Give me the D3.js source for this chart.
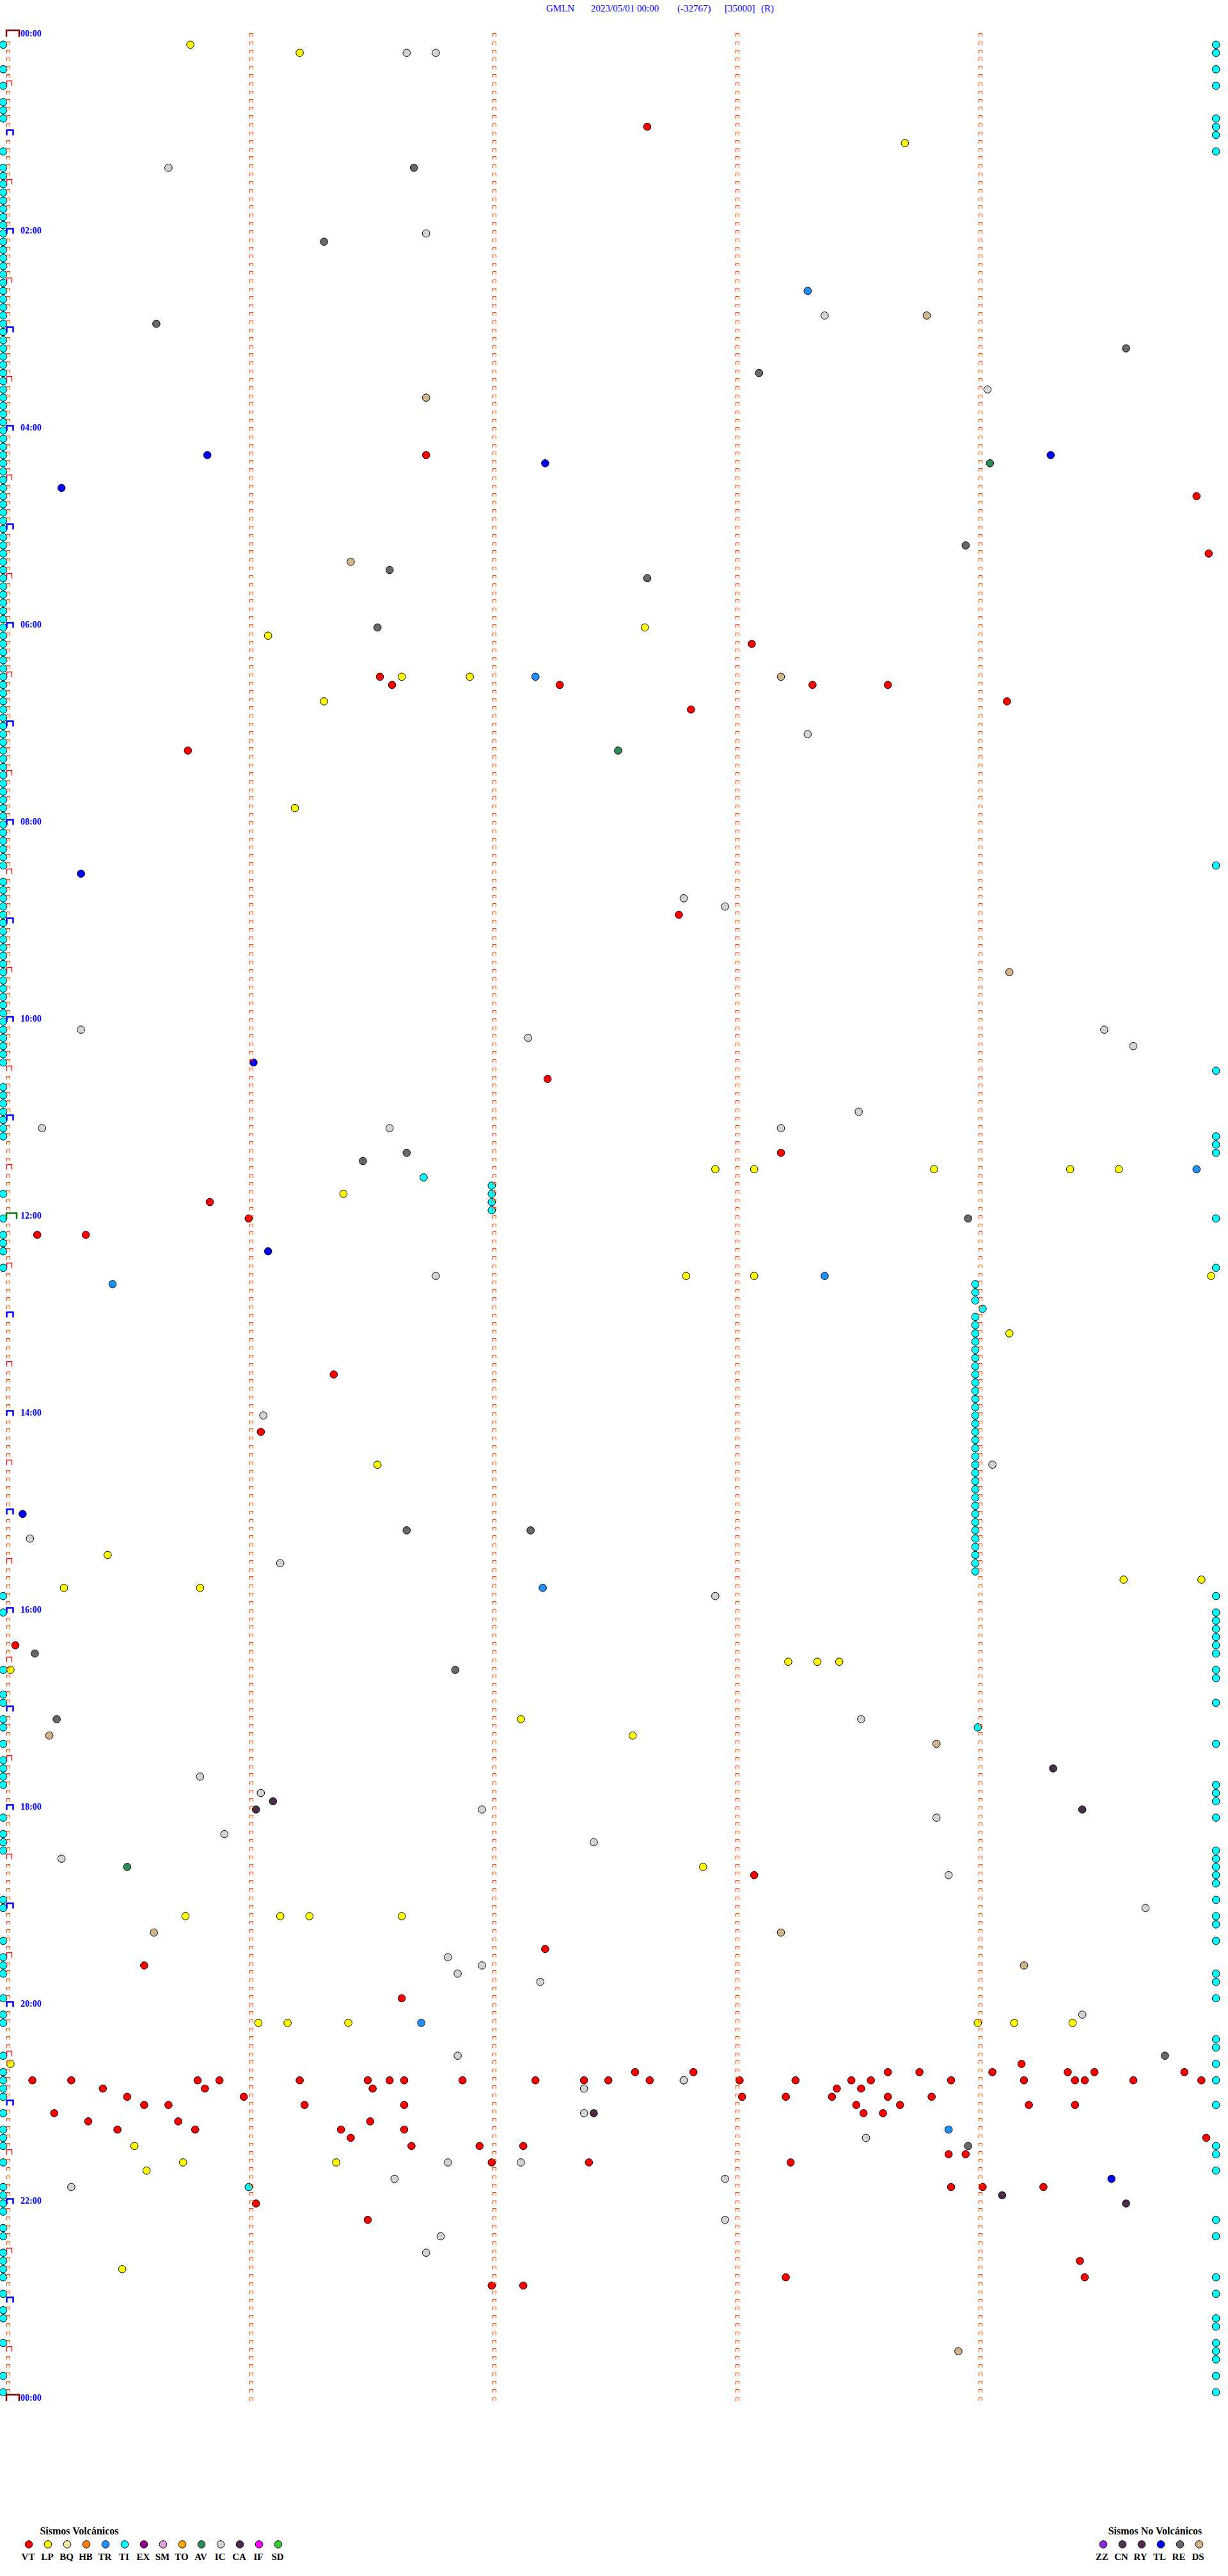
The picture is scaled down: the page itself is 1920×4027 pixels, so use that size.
<!DOCTYPE html>
<html><head><meta charset="utf-8">
<script src="https://cdn.jsdelivr.net/npm/d3@7"></script>
<style>body{margin:0;background:#fff}</style>
</head><body>
<svg id="c" width="1920" height="4027"></svg>
<script>
// ---- categories & colours ----
const volcTypes = ["VT","LP","BQ","HB","TR","TI","EX","SM","TO","AV","IC","CA","IF","SD"];
const volcColors = ["#FF0000","#FFFF00","#EEE8AA","#FF8000","#1E90FF","#00FFFF","#8B008B","#DDA0DD","#FFA500","#2E8B57","#D3D3D3","#4B2D4B","#FF00FF","#32CD32"];
const nonVolcTypes = ["ZZ","CN","RY","TL","RE","DS"];
const nonVolcColors = ["#8A2BE2","#4B3552","#552A55","#0000FF","#696969","#D2B48C"];

// hour labels (every 2 h)
const hourLabels = ["00:00","02:00","04:00","06:00","08:00","10:00","12:00","14:00","16:00","18:00","20:00","22:00","00:00"];

// ---- events: minutes of the day ----
const VT = [57.65,256.74,284.91,319.96,373.08,391.55,396.60,397.29,398.33,398.64,409.13,412.83,435.76,537.78,637.24,683.20,710.85,721.01,730.14,730.34,816.36,851.06,980.05,1123.09,1167.23,1175.58,1196.64,1239.19,
1242.60,1242.84,1243.64,1243.77,1244.07,1244.38,1244.49,1244.86,
1245.12,1245.28,1245.80,1245.89,1246.22,1246.50,1246.59,1246.65,1246.89,1247.19,1247.39,1247.49,1247.66,1247.80,1248.03,1248.26,1248.49,1248.57,1248.90,1249.20,1249.41,1249.45,1249.65,1249.93,
1250.41,1250.83,1251.52,1253.43,1253.53,1255.51,1255.99,1258.04,1258.22,1258.41,1258.64,1258.82,
1260.58,1260.68,1261.24,1261.65,1263.51,1263.69,1264.22,1264.41,1265.21,1268.54,1268.62,1270.35,1270.72,1271.51,
1275.47,1275.79,1276.39,1276.65,1281.43,1284.95,1286.68,1286.96,1287.14,1293.89,1293.96,1297.01,1297.41,1298.24,
1313.90,1314.03,1314.28,1321.04,1331.50,1359.43,1368.22,1369.45,1372.01,1372.14];
const LP = [5.77,11.22,68.71,362.64,366.09,391.64,391.92,406.32,471.20,692.93,693.09,693.83,694.39,694.59,706.40,757.81,758.09,759.97,794.14,871.54,925.43,944.61,944.93,945.25,945.81,993.23,993.35,993.44,995.03,1027.13,1037.59,1117.88,1145.75,1146.14,1146.26,1146.64,1211.05,1211.17,1211.42,1214.01,1214.16,1214.40,1235.03,1285.54,1295.74,1296.37,1300.59,1360.49];
const TR = [158.31,392.19,694.91,758.38,760.45,947.22,1211.72,1278.89];
const TI = [5,20,30,40,45,50,70,
80,85,90,95,100,105,110,115,120,125,130,135,140,145,150,155,160,165,170,175,180,185,190,195,200,205,210,215,220,225,230,235,240,245,250,255,260,265,270,275,280,285,290,295,300,305,310,315,320,325,330,335,340,345,350,355,360,365,370,375,380,385,390,395,400,405,410,415,420,425,430,435,440,445,450,455,460,465,470,475,480,485,490,495,500,505,
515,520,525,530,535,540,545,550,555,560,565,570,575,580,585,590,595,600,605,610,615,620,625,
640,645,650,655,660,665,670,705,720,730,735,740,750,950,960,995,1010,1015,1025,1030,1040,1050,1055,1060,1065,1085,1095,1100,1105,1135,1140,1160,1170,1175,1180,1195,1205,1210,1230,1240,1245,1250,1255,1265,1275,1280,1285,1295,1310,1315,1320,1325,1335,1340,1350,1355,1360,1365,1375,1385,1390,1405,1425,1435,
9.99,14.99,24.99,34.99,54.99,59.99,64.99,74.99,509.99,634.99,674.99,679.99,684.99,724.99,754.99,954.99,964.99,969.99,974.99,979.99,984.99,989.99,999.99,1004.99,1019.99,1044.99,1069.99,1074.99,1079.99,1089.99,1109.99,1114.99,1119.99,1124.99,1129.99,1139.99,1149.99,1154.99,1164.99,1184.99,1189.99,1199.99,1224.99,1229.99,1239.99,1249.99,1264.99,1289.99,1294.99,1304.99,1334.99,1344.99,1369.99,1379.99,1394.99,1399.99,1409.99,1414.99,1419.99,1429.99,1439.99,
764,769,774,779.03,784,789,794,799,804,809,814,819,824,829,834,839,844,849,854,859,864,869,874,879,884,889,894,899,904,909,914,919,924,929,934,939,
696.73,702.01,707.01,712.01,717.01,1034.01,1311.01];
const AV = [264.06,437.53,1115.51];
const IC = [11.66,11.78,80.68,121.74,173.38,219.05,428.31,527.80,532.97,605.32,609.53,612.16,619.65,658.52,665.16,666.59,668.20,756.78,841.07,874.07,915.11,931.14,952.93,1028.53,1060.81,1071.06,1081.97,1088.84,1095.91,1102.43,1110.24,1123.89,1144.70,1171.83,1176.97,1181.87,1187.21,1209.44,1231.87,1247.80,1252.39,1267.39,1283.55,1296.83,1297.13,1306.61,1307.97,1310.28,1332.97,1341.80,1351.74];
const CA = [1059.32,1076.11,1081.04,1084.44,1267.43,1319.11,1324.62];
const TL = [255.84,259.31,262.23,275.24,510.32,626.03,741.09,900.08,1309.56];
const RE = [81.69,126.32,175.63,194.62,208.11,313.96,326.59,332.65,361.54,681.66,686.48,723.97,911.66,912.17,985.13,996.86,1025.22,1234.78,1288.97];
const DS = [173.80,221.74,321.43,393.20,574.14,1035.19,1043.84,1155.62,1158.20,1179.20,1413.93];

const series = [["TI",TI],["VT",VT],["LP",LP],["TR",TR],["AV",AV],["IC",IC],["CA",CA],["TL",TL],["RE",RE],["DS",DS]];
const colorOf = {};
volcTypes.forEach((t,i)=>colorOf[t]=volcColors[i]);
nonVolcTypes.forEach((t,i)=>colorOf[t]=nonVolcColors[i]);

// ---- layout ----
const svg = d3.select("#c");
svg.append("rect").attr("width",1920).attr("height",4027).attr("fill","#fff");
const ROWS = 288, ROW_MIN = 5;
const x = d3.scaleLinear().domain([0, ROW_MIN]).range([5, 1905]);   // minutes within a row
const y = d3.scaleLinear().domain([0, ROWS]).range([57, 3752.6]);   // row index

// title
const title = svg.append("text").attr("y",18).attr("fill","#0000FF")
  .attr("font-family","'Liberation Serif','Times New Roman',serif").attr("font-size",15);
[["GMLN",854],["2023/05/01 00:00",924],["(-32767)",1059],["[35000]",1133],["(R)",1190]].forEach(([t,px])=>
  title.append("tspan").attr("x",px).text(t));

// events
const gDots = svg.append("g");
series.forEach(([type, arr])=>{
  gDots.selectAll(null).data(arr).enter().append("circle")
    .attr("cx", d=>{const r=Math.floor(d/ROW_MIN+1e-6); return x(d-r*ROW_MIN);})
    .attr("cy", d=>y(Math.floor(d/ROW_MIN+1e-6)))
    .attr("r",5.8).attr("fill",colorOf[type]).attr("stroke","#000").attr("stroke-width",1);
});

// row ticks
const gT = svg.append("g").attr("fill","none");
const rows = d3.range(0, ROWS+1);
function cap(x0, x1, yy, h){ return `M${x0},${yy} V${yy-h} H${x1} V${yy}`; }
for (let c=0;c<5;c++){
  rows.forEach(r=>{
    const yy = Math.round(y(r))+0.5;
    const bx = Math.round(x(c))+5.5;
    if (c===0 && (r===0||r===ROWS)) {
      gT.append("path").attr("d",cap(bx-0.5,bx+19.5,yy,10)).attr("stroke","#800000").attr("stroke-width",2.5);
    } else if (c===0 && r===144) {
      gT.append("path").attr("d",cap(bx-0.5,bx+15.5,yy,9)).attr("stroke","#008000").attr("stroke-width",2.5);
    } else if (c===0 && r%12===0) {
      gT.append("path").attr("d",cap(bx,bx+10,yy,8)).attr("stroke","#0000FF").attr("stroke-width",2.5);
    } else if (c===0 && r%12===6) {
      gT.append("path").attr("d",cap(bx,bx+8,yy,8)).attr("stroke","#FF0000").attr("stroke-width",1.3);
    } else {
      gT.append("path").attr("d",cap(bx,bx+5,yy,5)).attr("stroke","#FF4500").attr("stroke-width",1.2);
    }
  });
}

// hour labels
svg.append("g").selectAll("text").data(hourLabels).enter().append("text")
  .attr("x",32).attr("y",(d,i)=>y(i*24)).text(d=>d)
  .attr("fill","#0000FF").attr("font-weight","bold").attr("font-size",14)
  .attr("font-family","'Liberation Serif','Times New Roman',serif");

// legends
const lf = "'Liberation Serif','Times New Roman',serif";
const legV = svg.append("g");
legV.append("text").attr("x",124).attr("y",3962).attr("text-anchor","middle").attr("font-family",lf)
  .attr("font-weight","bold").attr("font-size",16).text("Sismos Volcánicos");
const lx = d3.scalePoint().domain(volcTypes).range([45,435]);
volcTypes.forEach((t,i)=>{
  legV.append("circle").attr("cx",lx(t)).attr("cy",3977.5).attr("r",5.8).attr("fill",volcColors[i]).attr("stroke","#000");
  legV.append("text").attr("x",lx(t)-1).attr("y",4002).attr("text-anchor","middle").attr("font-family",lf)
    .attr("font-weight","bold").attr("font-size",15).text(t);
});
const legN = svg.append("g");
legN.append("text").attr("x",1806).attr("y",3962).attr("text-anchor","middle").attr("font-family",lf)
  .attr("font-weight","bold").attr("font-size",16).text("Sismos No Volcánicos");
const nx = d3.scalePoint().domain(nonVolcTypes).range([1725,1875]);
nonVolcTypes.forEach((t,i)=>{
  legN.append("circle").attr("cx",nx(t)).attr("cy",3977.5).attr("r",5.8).attr("fill",nonVolcColors[i]).attr("stroke","#000");
  legN.append("text").attr("x",nx(t)-2).attr("y",4002).attr("text-anchor","middle").attr("font-family",lf)
    .attr("font-weight","bold").attr("font-size",15).text(t);
});
</script>
</body></html>
